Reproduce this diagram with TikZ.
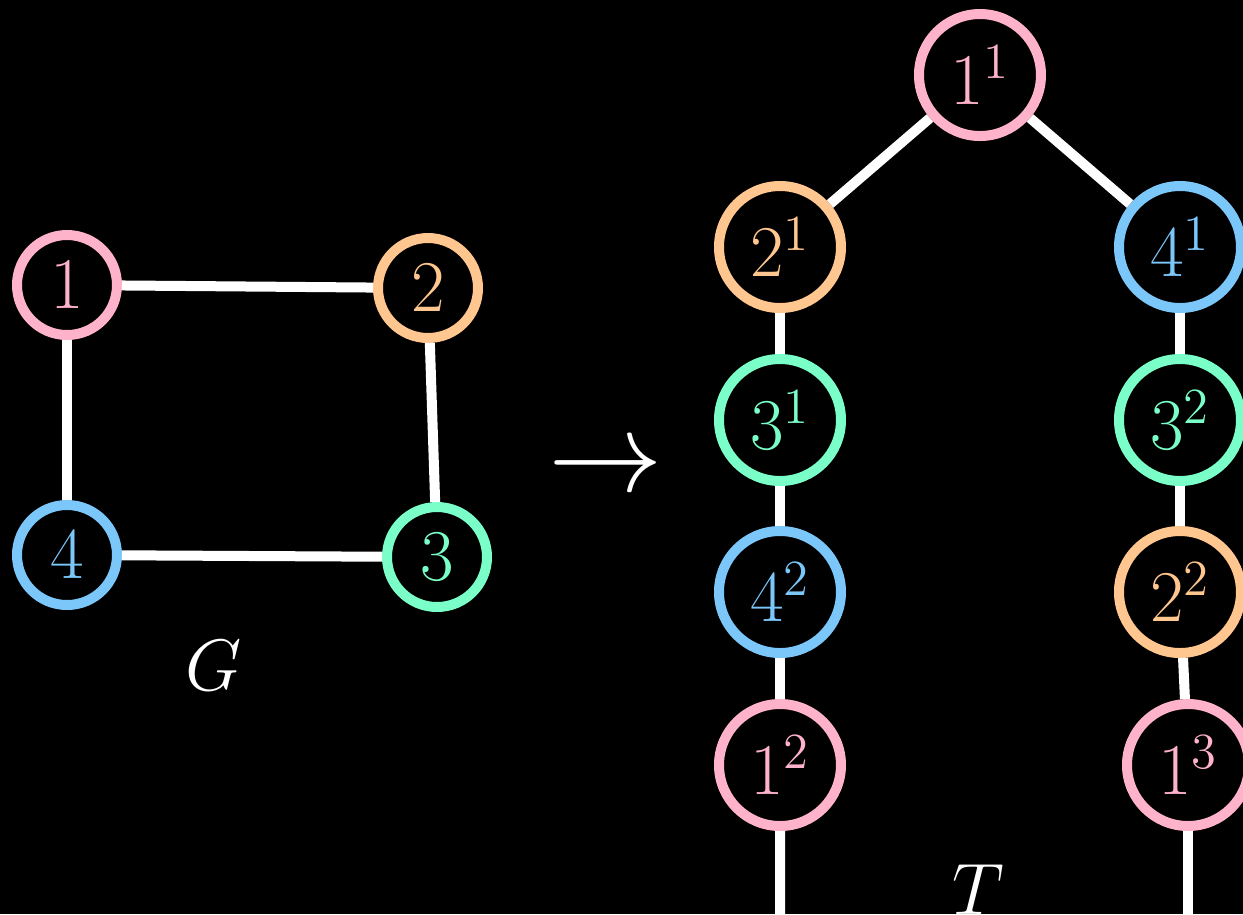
\documentclass[tikz,border=0pt]{standalone}
\usepackage{amsmath}
\usetikzlibrary{positioning}

\definecolor{vpink}{HTML}{FFB3CB}
\definecolor{vorange}{HTML}{FFC78F}
\definecolor{vblue}{HTML}{7CC7FA}
\definecolor{vgreen}{HTML}{7AFFC8}

\begin{document}
\begin{tikzpicture}[on grid, font=\fontsize{19.4}{23}\selectfont]
    % Styles
    \tikzstyle{gnode} = [draw, circle, line width=1mm, minimum size=1cm, inner sep=0pt]
    \tikzstyle{tnode} = [gnode, minimum size=1.22cm]
    \tikzstyle{edge} = [draw=white, line width=1mm]
    \tikzstyle{pk} = [draw=vpink, text=vpink]
    \tikzstyle{og} = [draw=vorange, text=vorange]
    \tikzstyle{bl} = [draw=vblue, text=vblue]
    \tikzstyle{gr} = [draw=vgreen, text=vgreen]

    % Background
    \fill[black] (0,0) rectangle (12.43,-9.14);
    \useasboundingbox (0,0) rectangle (12.43,-9.14);

    % Graph G
    \node (g1) [gnode, pk] at (0.67,-2.85) {$1$};
    \node (g2) [gnode, og] at (4.28,-2.88) {$2$};
    \node (g4) [gnode, bl] at (0.67,-5.55) {$4$};
    \node (g3) [gnode, gr] at (4.37,-5.57) {$3$};
    \node (glabel) [text=white, anchor=base] at (2.14,-6.90) {$G$};

    % Arrow
    \node (map) [text=white, inner sep=0pt] at (6.06,-4.70) {\scalebox{1.57}{$\rightarrow$}};

    % Tree T
    \node (t11) [tnode, pk] at (9.80,-0.75) {$1^1$};
    \node (t21) [tnode, og, below left=1.72cm and 2cm of t11] {$2^1$};
    \node (t41) [tnode, bl, below right=1.72cm and 2cm of t11] {$4^1$};
    \node (t31) [tnode, gr, below=1.73cm of t21] {$3^1$};
    \node (t32) [tnode, gr, below=1.73cm of t41] {$3^2$};
    \node (t42) [tnode, bl, below=1.72cm of t31] {$4^2$};
    \node (t22) [tnode, og, below=1.72cm of t32] {$2^2$};
    \node (t12) [tnode, pk, below=1.73cm of t42] {$1^2$};
    \node (t13) [tnode, pk, below=1.73cm of t22, xshift=0.08cm] {$1^3$};
    \node (tlabel) [text=white, anchor=base] at (9.78,-9.14) {$T$};

    % Loose ends
    \coordinate (d12) at (7.80,-9.40);
    \coordinate (d13) at (11.88,-9.40);

    % Paths: graph edges
    \draw [edge] (g1) -- (g2);
    \draw [edge] (g1) -- (g4);
    \draw [edge] (g2) -- (g3);
    \draw [edge] (g4) -- (g3);

    % Paths: tree edges
    \draw [edge] (t11) -- (t21);
    \draw [edge] (t11) -- (t41);
    \draw [edge] (t21) -- (t31);
    \draw [edge] (t31) -- (t42);
    \draw [edge] (t42) -- (t12);
    \draw [edge] (t41) -- (t32);
    \draw [edge] (t32) -- (t22);
    \draw [edge] (t22) -- (t13);
    \draw [edge] (t12) -- (d12);
    \draw [edge] (t13) -- (d13);

\end{tikzpicture}
\end{document}
